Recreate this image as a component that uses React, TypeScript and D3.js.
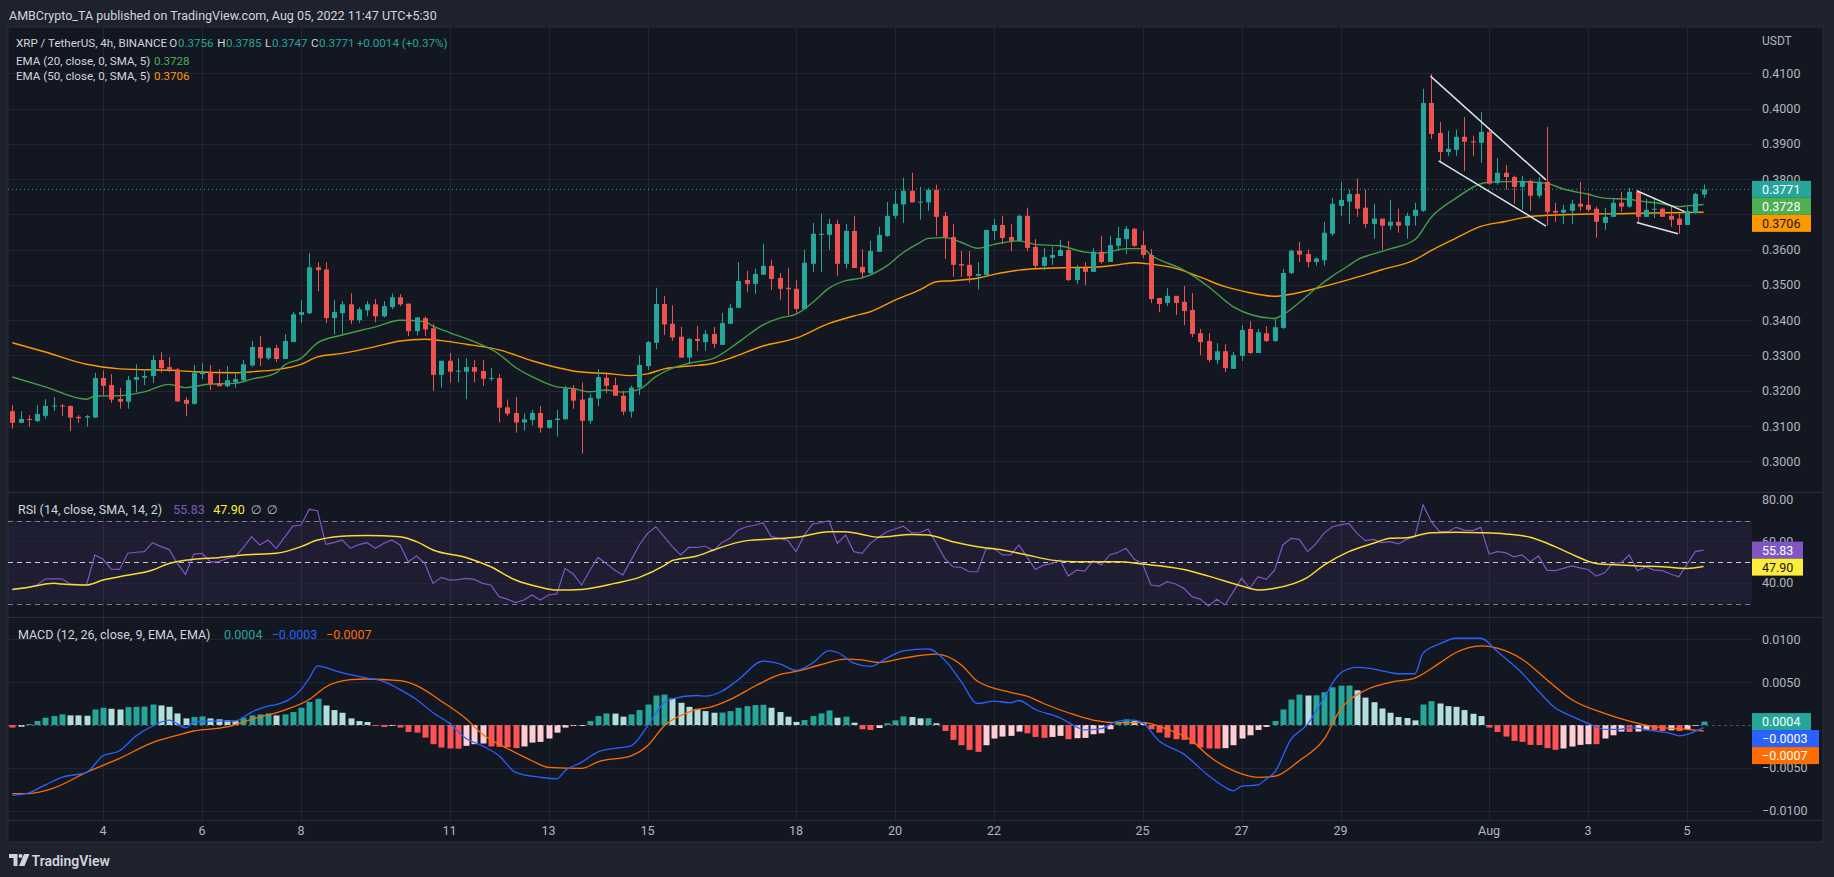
import * as d3 from "d3";

// XRP / TetherUS 4h candles, first bar Jul 2 2022 04:00, one bar every 4 hours
const START = Date.UTC(2022, 6, 2, 4);
const STEP = 4 * 3600 * 1000;

const opens = [
  0.3142, 0.3109, 0.312, 0.3114, 0.3129, 0.3157, 0.3158, 0.3157, 0.3126, 0.3124,
  0.3124, 0.3236, 0.3216, 0.3177, 0.3169, 0.3231, 0.3237, 0.3242, 0.3287, 0.3267,
  0.3261, 0.3174, 0.3163, 0.3247, 0.3253, 0.3222, 0.3213, 0.3224, 0.323, 0.3272,
  0.3324, 0.3292, 0.3321, 0.329, 0.3338, 0.3415, 0.342, 0.355, 0.3544, 0.3406,
  0.342, 0.3445, 0.34, 0.3428, 0.3445, 0.3411, 0.3437, 0.3465, 0.3447, 0.3369,
  0.3406, 0.3377, 0.3245, 0.3285, 0.3256, 0.3254, 0.3267, 0.3256, 0.3234, 0.3236,
  0.3153, 0.3137, 0.311, 0.3117, 0.3137, 0.3095, 0.3117, 0.3119, 0.3206, 0.3175,
  0.3115, 0.3178, 0.3237, 0.3216, 0.3186, 0.3141, 0.3209, 0.327, 0.3336, 0.3446,
  0.339, 0.3353, 0.3294, 0.3347, 0.3338, 0.3361, 0.333, 0.339, 0.3435, 0.3514,
  0.3503, 0.3529, 0.3554, 0.352, 0.3492, 0.3489, 0.3432, 0.356, 0.3642, 0.3642,
  0.3673, 0.356, 0.3653, 0.3551, 0.3534, 0.3594, 0.3639, 0.3696, 0.3728, 0.3767,
  0.3734, 0.3734, 0.377, 0.3696, 0.3636, 0.3559, 0.3557, 0.3526, 0.3528, 0.3653,
  0.367, 0.3636, 0.3625, 0.3696, 0.3608, 0.3554, 0.3577, 0.3582, 0.3599, 0.3514,
  0.3548, 0.3537, 0.3594, 0.3565, 0.3611, 0.363, 0.3659, 0.3613, 0.3585, 0.3463,
  0.3449, 0.3469, 0.3452, 0.3429, 0.3363, 0.3341, 0.3287, 0.3312, 0.3262, 0.3299,
  0.3375, 0.3307, 0.3363, 0.3341, 0.3378, 0.3534, 0.3597, 0.3588, 0.3565, 0.357,
  0.3645, 0.3724, 0.3736, 0.3758, 0.3719, 0.3673, 0.3688, 0.3668, 0.3679, 0.3668,
  0.3696, 0.371, 0.4016, 0.3931, 0.3877, 0.3883, 0.392, 0.3907, 0.3903, 0.3934,
  0.3789, 0.3818, 0.3806, 0.3778, 0.3795, 0.3753, 0.3792, 0.371, 0.3705, 0.371,
  0.373, 0.3727, 0.3716, 0.3676, 0.3693, 0.3733, 0.3722, 0.3764, 0.3693, 0.3713,
  0.3716, 0.3696, 0.3688, 0.367, 0.3704, 0.3756,
];
const highs = [
  0.3159, 0.3142, 0.3131, 0.3159, 0.3176, 0.3182, 0.3163, 0.3158, 0.3131, 0.3131,
  0.3251, 0.3258, 0.3247, 0.3208, 0.3242, 0.3275, 0.3261, 0.3301, 0.3309, 0.3295,
  0.3264, 0.3182, 0.3273, 0.3278, 0.3273, 0.3261, 0.327, 0.3247, 0.3287, 0.3341,
  0.3355, 0.3324, 0.333, 0.3361, 0.3423, 0.3457, 0.359, 0.3564, 0.3564, 0.3457,
  0.3454, 0.3476, 0.3437, 0.3454, 0.346, 0.3454, 0.3476, 0.3474, 0.3447, 0.3408,
  0.3411, 0.339, 0.3285, 0.3307, 0.3292, 0.3292, 0.3287, 0.3287, 0.3264, 0.3248,
  0.3175, 0.3182, 0.3136, 0.3146, 0.3157, 0.3117, 0.3146, 0.3214, 0.3216, 0.3223,
  0.3191, 0.3261, 0.3253, 0.3237, 0.32, 0.3214, 0.3301, 0.3341, 0.3492, 0.3469,
  0.3442, 0.3381, 0.335, 0.3384, 0.3372, 0.3381, 0.3421, 0.3446, 0.3565, 0.354,
  0.3546, 0.3617, 0.3571, 0.3534, 0.3548, 0.3514, 0.36, 0.3676, 0.3702, 0.3688,
  0.3685, 0.3673, 0.3696, 0.3601, 0.3625, 0.3665, 0.3735, 0.3767, 0.3804, 0.3818,
  0.3778, 0.3775, 0.3784, 0.3707, 0.3673, 0.3596, 0.3596, 0.3565, 0.3656, 0.3687,
  0.3696, 0.3673, 0.3699, 0.3719, 0.363, 0.3605, 0.3608, 0.3628, 0.3625, 0.3557,
  0.3565, 0.3605, 0.3639, 0.3639, 0.3665, 0.3667, 0.3662, 0.3653, 0.3602, 0.3463,
  0.3491, 0.3469, 0.3497, 0.3477, 0.3375, 0.3363, 0.3335, 0.3332, 0.331, 0.3386,
  0.3397, 0.3375, 0.3383, 0.3403, 0.3545, 0.36, 0.3622, 0.36, 0.3578, 0.3679,
  0.3747, 0.3792, 0.377, 0.3801, 0.377, 0.373, 0.3688, 0.3741, 0.3716, 0.3705,
  0.3733, 0.4056, 0.4098, 0.3962, 0.3937, 0.394, 0.3976, 0.3923, 0.399, 0.3945,
  0.386, 0.384, 0.381, 0.3809, 0.3798, 0.3806, 0.3948, 0.3733, 0.3727, 0.3741,
  0.3792, 0.3761, 0.3722, 0.3719, 0.3747, 0.3764, 0.3775, 0.3767, 0.3744, 0.3747,
  0.3719, 0.3722, 0.3702, 0.3722, 0.3761, 0.3785,
];
const lows = [
  0.3092, 0.3108, 0.3098, 0.3112, 0.3121, 0.3143, 0.3129, 0.3086, 0.3109, 0.3098,
  0.3123, 0.3187, 0.3166, 0.3149, 0.3149, 0.3196, 0.3216, 0.3222, 0.3251, 0.3253,
  0.3168, 0.3128, 0.3161, 0.3233, 0.3202, 0.3213, 0.321, 0.3208, 0.3224, 0.3267,
  0.327, 0.3287, 0.3281, 0.329, 0.3338, 0.3392, 0.3417, 0.3482, 0.3392, 0.336,
  0.336, 0.3389, 0.3392, 0.3411, 0.3394, 0.3408, 0.3431, 0.344, 0.3355, 0.3357,
  0.3355, 0.32, 0.3209, 0.3223, 0.3224, 0.3176, 0.3224, 0.3214, 0.3227, 0.311,
  0.3129, 0.3081, 0.3087, 0.3102, 0.3081, 0.3092, 0.307, 0.3119, 0.3149, 0.3022,
  0.3106, 0.3157, 0.3193, 0.3186, 0.3131, 0.3124, 0.3188, 0.3259, 0.3318, 0.3358,
  0.3342, 0.3294, 0.3276, 0.3313, 0.3313, 0.3321, 0.333, 0.339, 0.3435, 0.348,
  0.3475, 0.3529, 0.3486, 0.3458, 0.3415, 0.3421, 0.3432, 0.3537, 0.3537, 0.36,
  0.3526, 0.3546, 0.3548, 0.3519, 0.3528, 0.3594, 0.3636, 0.3687, 0.3676, 0.3734,
  0.3685, 0.371, 0.3639, 0.3574, 0.3523, 0.3523, 0.3506, 0.3487, 0.3528, 0.3628,
  0.3616, 0.3596, 0.3625, 0.3596, 0.3548, 0.3542, 0.3557, 0.3582, 0.3511, 0.3503,
  0.35, 0.3537, 0.356, 0.3565, 0.3596, 0.3588, 0.3608, 0.3576, 0.3449, 0.3423,
  0.344, 0.3415, 0.3386, 0.3352, 0.3301, 0.3281, 0.3275, 0.3253, 0.3262, 0.3284,
  0.3304, 0.3307, 0.3338, 0.3338, 0.3375, 0.353, 0.3565, 0.355, 0.3555, 0.3555,
  0.3639, 0.3696, 0.3673, 0.3693, 0.3662, 0.3631, 0.36, 0.3656, 0.3648, 0.3631,
  0.3668, 0.3707, 0.3914, 0.3846, 0.3866, 0.3866, 0.3823, 0.3866, 0.3846, 0.3784,
  0.3784, 0.377, 0.373, 0.3713, 0.371, 0.3747, 0.3668, 0.3679, 0.3673, 0.3673,
  0.371, 0.3707, 0.3634, 0.3656, 0.3693, 0.3707, 0.3719, 0.3676, 0.3693, 0.369,
  0.3693, 0.3665, 0.3645, 0.367, 0.3702, 0.3747,
];
const closes = [
  0.3109, 0.312, 0.3118, 0.3134, 0.3157, 0.3158, 0.3156, 0.3124, 0.3122, 0.3128,
  0.3236, 0.3214, 0.3175, 0.3169, 0.323, 0.3239, 0.3242, 0.3287, 0.3264, 0.326,
  0.317, 0.3163, 0.325, 0.3253, 0.3219, 0.3213, 0.323, 0.3233, 0.3275, 0.3324,
  0.3292, 0.3321, 0.329, 0.3341, 0.3417, 0.3423, 0.355, 0.3542, 0.3406, 0.3423,
  0.3445, 0.34, 0.3431, 0.3445, 0.3411, 0.344, 0.3465, 0.3445, 0.3369, 0.3408,
  0.3374, 0.3245, 0.3285, 0.3254, 0.3257, 0.3267, 0.3254, 0.3234, 0.3236, 0.3152,
  0.3135, 0.311, 0.3119, 0.3137, 0.3095, 0.3117, 0.3121, 0.3206, 0.3172, 0.3115,
  0.318, 0.3239, 0.3214, 0.3186, 0.3141, 0.3209, 0.3273, 0.3338, 0.3446, 0.3388,
  0.3351, 0.3294, 0.3347, 0.3341, 0.3361, 0.3333, 0.3392, 0.3435, 0.3511, 0.3503,
  0.3531, 0.3554, 0.3517, 0.3489, 0.3488, 0.3432, 0.3563, 0.3645, 0.3645, 0.3673,
  0.356, 0.3653, 0.3548, 0.3535, 0.3596, 0.3642, 0.3696, 0.373, 0.3767, 0.3734,
  0.3736, 0.377, 0.3693, 0.3634, 0.3557, 0.3555, 0.3525, 0.3531, 0.3656, 0.367,
  0.3633, 0.3625, 0.3696, 0.3605, 0.3554, 0.3579, 0.3585, 0.3599, 0.3514, 0.3548,
  0.3537, 0.3594, 0.3565, 0.3613, 0.3633, 0.3659, 0.3611, 0.3585, 0.346, 0.3446,
  0.3469, 0.3449, 0.3426, 0.3361, 0.3338, 0.3287, 0.3312, 0.3264, 0.3301, 0.3372,
  0.3307, 0.3366, 0.3341, 0.338, 0.3534, 0.3597, 0.3586, 0.3565, 0.3575, 0.3648,
  0.373, 0.3741, 0.3758, 0.3716, 0.3673, 0.3688, 0.3668, 0.3679, 0.3668, 0.3696,
  0.3713, 0.4016, 0.3928, 0.3877, 0.3886, 0.392, 0.3906, 0.3904, 0.3934, 0.3787,
  0.3818, 0.3806, 0.3778, 0.3795, 0.3753, 0.3792, 0.3707, 0.3705, 0.3713, 0.373,
  0.3722, 0.3713, 0.3679, 0.3693, 0.3733, 0.3722, 0.3764, 0.3693, 0.3713, 0.3716,
  0.3693, 0.3685, 0.367, 0.371, 0.3758, 0.3771,
];

// [bar index, value]
const ema20 = [
  [0, 0.3239], [4, 0.3211], [9, 0.3176], [10, 0.3185], [13, 0.3186], [16, 0.3197], [19, 0.3218],
  [21, 0.3209], [24, 0.3219], [27, 0.3221], [29, 0.3233], [32, 0.3251], [33, 0.3273], [35, 0.3292],
  [37, 0.3336], [40, 0.3358], [44, 0.3381], [47, 0.34], [50, 0.3396], [51, 0.3383], [53, 0.3365],
  [56, 0.3339], [59, 0.3304], [61, 0.3266], [63, 0.324], [66, 0.3211], [68, 0.3206], [70, 0.3197],
  [72, 0.3202], [74, 0.3196], [76, 0.3204], [78, 0.324], [80, 0.3264], [82, 0.3278], [85, 0.3292],
  [88, 0.3337], [91, 0.3387], [93, 0.3406], [95, 0.3417], [97, 0.345], [99, 0.3491], [101, 0.3512],
  [103, 0.352], [106, 0.3554], [108, 0.3592], [110, 0.362], [111, 0.3632], [113, 0.3634], [115, 0.3621],
  [117, 0.3604], [119, 0.3615], [122, 0.3625], [124, 0.3615], [127, 0.3611], [130, 0.3593], [132, 0.359],
  [135, 0.3603], [137, 0.3603], [138, 0.3585], [142, 0.3542], [145, 0.3495], [148, 0.3438], [150, 0.3417],
  [153, 0.3405], [154, 0.3415], [156, 0.345], [158, 0.349], [160, 0.3525], [162, 0.3555], [163, 0.3571],
  [165, 0.3588], [167, 0.3602], [170, 0.3628], [172, 0.3692], [175, 0.3746], [178, 0.3787], [179, 0.3791],
  [181, 0.3793], [184, 0.3792], [186, 0.3788], [188, 0.3772], [191, 0.3757], [193, 0.3746], [196, 0.3743],
  [197, 0.3739], [200, 0.373], [202, 0.3722], [203, 0.3724], [205, 0.3728],
];
const ema50 = [
  [0, 0.3336], [4, 0.331], [9, 0.3275], [13, 0.3262], [20, 0.3257], [22, 0.3254], [27, 0.3251],
  [29, 0.3254], [32, 0.326], [35, 0.3275], [37, 0.3296], [40, 0.3306], [44, 0.3325], [47, 0.3341],
  [50, 0.3346], [52, 0.3342], [55, 0.3332], [59, 0.3316], [63, 0.3285], [66, 0.3266], [69, 0.3253],
  [72, 0.3249], [75, 0.3243], [77, 0.3248], [79, 0.3262], [82, 0.327], [85, 0.3278], [87, 0.3292],
  [91, 0.3327], [95, 0.3349], [99, 0.3391], [102, 0.3412], [104, 0.3424], [107, 0.3457], [110, 0.3486],
  [112, 0.3509], [114, 0.3512], [117, 0.3519], [119, 0.353], [122, 0.3542], [124, 0.3546], [128, 0.3549],
  [131, 0.355], [134, 0.3557], [136, 0.3563], [138, 0.3559], [141, 0.3547], [144, 0.3522], [147, 0.3495],
  [150, 0.3478], [153, 0.3468], [154, 0.347], [158, 0.349], [162, 0.3515], [166, 0.3543], [170, 0.3571],
  [172, 0.3598], [175, 0.3633], [178, 0.3666], [181, 0.368], [184, 0.3694], [188, 0.3699], [191, 0.3701],
  [195, 0.3702], [199, 0.3704], [205, 0.3706],
];

// RSI(14), one value per bar
const rsi = [
  36.9, 37.4, 37.9, 39.0, 42.0, 42.0, 42.0, 39.5, 39.2, 39.0,
  53.5, 51.4, 46.7, 46.5, 54.3, 54.8, 55.1, 59.4, 57.5, 56.2,
  49.4, 44.1, 53.9, 54.3, 50.2, 50.2, 51.8, 52.6, 57.0, 62.3,
  58.3, 60.7, 56.7, 62.0, 67.4, 67.9, 75.5, 74.8, 58.6, 59.4,
  60.7, 56.7, 58.5, 59.4, 56.7, 59.0, 60.7, 58.3, 50.2, 53.0,
  49.4, 39.8, 42.7, 41.4, 41.6, 42.2, 41.7, 39.8, 39.0, 33.4,
  32.2, 30.5, 31.8, 34.2, 31.8, 34.2, 34.7, 47.0, 44.3, 39.0,
  46.0, 52.3, 49.4, 46.2, 43.8, 51.0, 58.3, 63.9, 67.1, 62.3,
  57.5, 53.5, 57.1, 57.1, 57.8, 55.5, 59.4, 61.5, 65.5, 67.1,
  67.8, 69.0, 62.3, 61.5, 60.5, 55.1, 63.1, 68.4, 69.0, 70.0,
  59.1, 63.1, 55.1, 54.3, 59.1, 62.0, 64.7, 66.0, 67.4, 64.2,
  64.2, 66.0, 59.1, 52.0, 47.8, 47.5, 45.4, 45.4, 56.2, 56.7,
  53.5, 53.5, 58.3, 52.6, 46.5, 48.6, 49.4, 51.0, 43.3, 46.2,
  45.7, 50.7, 48.6, 53.5, 54.7, 56.7, 51.4, 49.4, 39.0, 38.5,
  40.6, 39.5, 37.4, 33.4, 32.2, 28.9, 32.1, 29.4, 35.8, 42.2,
  37.4, 43.0, 41.7, 46.2, 58.3, 61.5, 61.0, 55.1, 58.8, 64.0,
  67.1, 68.0, 68.7, 63.9, 60.4, 61.0, 59.4, 59.9, 58.8, 61.0,
  62.3, 77.6, 69.5, 64.7, 64.7, 66.8, 65.5, 65.2, 66.8, 53.9,
  55.1, 54.6, 52.6, 53.5, 50.2, 53.0, 46.2, 45.9, 47.0, 48.2,
  47.3, 46.5, 43.3, 44.9, 49.4, 49.8, 53.5, 45.9, 47.8, 46.2,
  45.9, 44.3, 43.0, 49.1, 55.1, 55.83,
];
const rsiMa = [
  [0, 36.9], [2, 37.9], [5, 39.8], [6, 39.5], [9, 39.0], [11, 41.4], [13, 43.0], [17, 46.2],
  [19, 49.4], [22, 51.4], [25, 52.2], [28, 53.5], [32, 54.3], [35, 57.5], [37, 60.7], [41, 62.8],
  [43, 62.9], [47, 62.3], [49, 59.9], [51, 55.9], [55, 52.3], [58, 47.8], [61, 41.4], [64, 37.9],
  [66, 36.6], [69, 36.9], [73, 39.8], [76, 42.7], [79, 48.3], [80, 50.8], [83, 53.0], [85, 55.9],
  [89, 60.4], [92, 61.2], [95, 62.0], [99, 64.7], [101, 64.7], [103, 63.4], [105, 62.0], [109, 63.4],
  [111, 63.1], [114, 59.9], [117, 57.5], [120, 55.9], [123, 53.5], [126, 51.0], [129, 50.2], [134, 50.2],
  [137, 49.1], [142, 46.5], [145, 43.3], [149, 38.5], [151, 36.6], [153, 37.4], [157, 42.7], [159, 48.6],
  [162, 55.1], [165, 59.1], [167, 61.5], [169, 61.8], [172, 64.2], [175, 64.4], [178, 64.2], [181, 63.6],
  [184, 62.0], [187, 57.5], [189, 53.9], [192, 49.4], [195, 48.6], [197, 48.2], [200, 47.8], [203, 47.0],
  [205, 47.9],
];

// MACD(12, 26, 9)
const macdLine = [
  [0, -0.00822], [2, -0.00792], [4, -0.00699], [6, -0.0061], [9, -0.00552], [11, -0.00359], [13, -0.00301],
  [15, -0.00127], [17, -0.00012], [19, 0.00058], [21, -0.00031], [22, 0.00035], [24, 0.00046], [27, 0.00046],
  [29, 0.00151], [31, 0.0022], [32, 0.00239], [35, 0.00413], [36, 0.00548], [37, 0.00691], [39, 0.00637],
  [41, 0.00587], [43, 0.00548], [45, 0.0051], [47, 0.00413], [49, 0.00297], [51, 0.00143], [53, 0.00019],
  [55, -0.00158], [57, -0.00243], [59, -0.00359], [61, -0.00552], [64, -0.0061], [66, -0.00629], [67, -0.00533],
  [69, -0.00436], [71, -0.00313], [73, -0.00274], [75, -0.00243], [77, -0.00012], [79, 0.00259], [80, 0.00305],
  [83, 0.00344], [84, 0.00336], [86, 0.00394], [88, 0.00529], [91, 0.00745], [93, 0.00714], [95, 0.00637],
  [97, 0.00722], [99, 0.00869], [100, 0.00849], [102, 0.00722], [104, 0.00683], [106, 0.0078], [108, 0.00865],
  [111, 0.00888], [113, 0.0076], [115, 0.0051], [117, 0.00251], [119, 0.00278], [121, 0.00259], [122, 0.00286],
  [124, 0.00181], [127, 0.00085], [129, -0.00023], [130, -0.00058], [132, -0.00042], [134, 0.00046], [136, 0.00058],
  [137, 0.00027], [139, -0.00185], [142, -0.0034], [145, -0.00591], [147, -0.00726], [148, -0.00768], [149, -0.00714],
  [151, -0.00699], [152, -0.00629], [153, -0.00552], [155, -0.00166], [157, 0.00008], [159, 0.00317], [161, 0.00606],
  [163, 0.00672], [165, 0.00653], [168, 0.00598], [170, 0.00598], [171, 0.00838], [173, 0.00946], [175, 0.01012],
  [178, 0.01012], [180, 0.00857], [183, 0.00606], [185, 0.00394], [187, 0.00201], [189, 0.00104], [191, 0.00019],
  [193, -0.0005], [195, -0.0005], [196, -0.00031], [199, -0.00069], [201, -0.00097], [202, -0.00127], [203, -0.00108],
  [205, -0.0003],
];
const signalLine = [
  [0, -0.008], [2, -0.008], [5, -0.00737], [9, -0.00552], [13, -0.0039], [17, -0.00205], [20, -0.0012],
  [22, -0.0007], [26, -0.00023], [29, 0.00066], [33, 0.00174], [36, 0.00297], [38, 0.00444], [41, 0.00529],
  [43, 0.00537], [47, 0.00517], [49, 0.00459], [52, 0.00278], [55, 0.00073], [57, -0.00108], [60, -0.00274],
  [63, -0.00417], [65, -0.00494], [69, -0.00506], [71, -0.00429], [75, -0.00359], [77, -0.00243], [79, -0.00012],
  [82, 0.00151], [85, 0.0022], [87, 0.00297], [90, 0.00452], [93, 0.00587], [95, 0.00625], [98, 0.00703],
  [101, 0.00768], [103, 0.0076], [105, 0.0073], [108, 0.0078], [112, 0.00826], [115, 0.00703], [117, 0.0051],
  [121, 0.00382], [123, 0.00336], [125, 0.00251], [128, 0.00143], [131, 0.00058], [134, 0.00027], [137, 0.00027],
  [140, -0.0005], [143, -0.00185], [145, -0.00359], [148, -0.00533], [151, -0.0061], [153, -0.00598], [156, -0.00417],
  [159, -0.00166], [161, 0.00181], [164, 0.00405], [167, 0.00498], [170, 0.00548], [173, 0.00722], [175, 0.00846],
  [178, 0.00923], [180, 0.00896], [183, 0.00768], [186, 0.00529], [189, 0.00297], [193, 0.00135], [196, 0.00046],
  [199, -0.00019], [203, -0.0005], [205, -0.0007],
];
const histogram = [
  -0.0003, -0.0002, 0.0001, 0.00046, 0.00085, 0.00104, 0.00124, 0.00112, 0.00112, 0.00108,
  0.00181, 0.00201, 0.00189, 0.00181, 0.00208, 0.00212, 0.00214, 0.00239, 0.00228, 0.00212,
  0.00135, 0.00077, 0.00093, 0.001, 0.00077, 0.00066, 0.00054, 0.0005, 0.00085, 0.00112,
  0.00124, 0.00135, 0.00112, 0.00124, 0.00151, 0.00201, 0.0027, 0.00305, 0.00228, 0.00174,
  0.00143, 0.00077, 0.00046, 0.00035, -0.00012, -0.00023, -0.00012, -0.0003, -0.00081, -0.00089,
  -0.00147, -0.00224, -0.00263, -0.00274, -0.00276, -0.00243, -0.00224, -0.00216, -0.0025, -0.00255,
  -0.0026, -0.0027, -0.0025, -0.00205, -0.00197, -0.00158, -0.00089, -0.0003, -0.00004, -0.00002,
  0.00046, 0.00104, 0.00135, 0.00133, 0.00097, 0.00124, 0.00174, 0.00239, 0.00344, 0.00355,
  0.00309, 0.00259, 0.00212, 0.00189, 0.00162, 0.00143, 0.00145, 0.00162, 0.00201, 0.0022,
  0.00232, 0.00236, 0.00201, 0.00151, 0.00097, 0.00035, 0.00058, 0.00104, 0.00135, 0.0017,
  0.00085, 0.00097, 0.00027, -0.0005, -0.00058, -0.00035, 0.0002, 0.00054, 0.001, 0.00093,
  0.00077, 0.00079, 0.0002, -0.0007, -0.00174, -0.00236, -0.0029, -0.00313, -0.00236, -0.00158,
  -0.00135, -0.00127, -0.00077, -0.00097, -0.00139, -0.0015, -0.00139, -0.00127, -0.00166, -0.00154,
  -0.0015, -0.00108, -0.00097, -0.0005, 0.00027, 0.00066, 0.00046, 0.00027, -0.0005, -0.00089,
  -0.00147, -0.00166, -0.00174, -0.00224, -0.00263, -0.00274, -0.00276, -0.0027, -0.00236, -0.00158,
  -0.0012, -0.00058, -0.00023, 0.00046, 0.00181, 0.00297, 0.00355, 0.00344, 0.00346, 0.00382,
  0.0044, 0.00459, 0.0046, 0.00405, 0.0032, 0.00266, 0.00193, 0.00143, 0.00093, 0.00081,
  0.00054, 0.00239, 0.00278, 0.00251, 0.0022, 0.00212, 0.00174, 0.00131, 0.00104, -0.0003,
  -0.00081, -0.00135, -0.00185, -0.00197, -0.00232, -0.00234, -0.0027, -0.0029, -0.00274, -0.00251,
  -0.00232, -0.00224, -0.00224, -0.00158, -0.0012, -0.00077, -0.00081, -0.00077, -0.00062, -0.00064,
  -0.0007, -0.00062, -0.0007, -0.0005, -0.0001, 0.0004,
];

// trend lines drawn on the chart: [bar index, price] end points
const drawings = [
  [[171.9, 0.4092], [185.9, 0.3798]],
  [[172.9, 0.3852], [185.9, 0.3667]],
  [[196.9, 0.3767], [202.7, 0.3708]],
  [[196.9, 0.3677], [201.9, 0.3645]],
];

const dayTicks = [
  "2022-07-04", "2022-07-06", "2022-07-08", "2022-07-11", "2022-07-13", "2022-07-15", "2022-07-18",
  "2022-07-20", "2022-07-22", "2022-07-25", "2022-07-27", "2022-07-29", "2022-08-01", "2022-08-03",
  "2022-08-05",
];
const priceTicks = [0.3, 0.31, 0.32, 0.33, 0.34, 0.35, 0.36, 0.37, 0.38, 0.39, 0.4, 0.41];
const rsiTicks = [80, 60, 40];
const rsiBands = [70, 50, 30];
const macdTicks = [0.01, 0.005, -0.005, -0.01];

const BG = "#131722";
const OUTER = "#1e222d";
const GRID = "#232632";
const TEXT = "#b2b5be";
const UP = "#26a69a";
const DOWN = "#ef5350";
const FONT = "Roboto, 'Noto Sans', 'DejaVu Sans', sans-serif";

const PL = 8;
const PR = 1752;
const AR = 1823;

const t = (i: number) => new Date(START + i * STEP);
const fmt = (v: number, d: number) => (v < 0 ? "\u2212" : "") + Math.abs(v).toFixed(d);

function stackBoxes(items: { y: number; h: number }[]) {
  const out: number[] = [];
  let last = -Infinity;
  items.forEach((it) => {
    let top = it.y - it.h / 2;
    if (top < last) top = last;
    out.push(top);
    last = top + it.h;
  });
  return out;
}

function AxisBoxes({ items }: { items: { v: string; y: number; bg: string; fg: string }[] }) {
  const tops = stackBoxes(items.map((d) => ({ y: d.y, h: 17 })));
  return (
    <g>
      {items.map((d, k) => (
        <g key={k}>
          <rect x={PR} y={tops[k]} width={d.v.length * 8 + 11} height={17} fill={d.bg} />
          <text x={1762} y={tops[k] + 8.8} fill={d.fg} fontSize={12.5} dominantBaseline="central">
            {d.v}
          </text>
        </g>
      ))}
    </g>
  );
}

export default function App() {
  const x = d3.scaleUtc().domain([t(0), t(205)]).range([12.3, 1703.55]);
  const yP = d3.scaleLinear().domain([0.3, 0.41]).range([461.3, 73.3]);
  const yR = d3.scaleLinear().domain([30, 70]).range([603.7, 520.7]);
  const yM = d3.scaleLinear().domain([-0.01, 0.01]).range([810.7, 639.3]);

  const xi = (i: number) => x(t(i));

  const pairLine = (y: d3.ScaleLinear<number, number>) =>
    d3
      .line<number[]>()
      .x((d) => xi(d[0]))
      .y((d) => y(d[1]))
      .curve(d3.curveMonotoneX);

  const rsiPath = d3
    .line<number>()
    .x((_, i) => xi(i))
    .y((d) => yR(d))(rsi);

  const last = closes.length - 1;
  const histColor = (v: number, i: number) => {
    const prev = i > 0 ? histogram[i - 1] : v;
    if (v >= 0) return prev < v ? "#26a69a" : "#b2dfdb";
    return prev < v ? "#ffcdd2" : "#ff5252";
  };

  return (
    <svg
      width={1834}
      height={877}
      style={{ position: "absolute", left: 0, top: 0, display: "block" }}
      fontFamily={FONT}
    >
      <defs>
        <clipPath id="pricePane">
          <rect x={PL} y={27} width={PR - PL} height={465} />
        </clipPath>
        <clipPath id="rsiPane">
          <rect x={PL} y={493} width={PR - PL} height={124} />
        </clipPath>
        <clipPath id="macdPane">
          <rect x={PL} y={618} width={PR - PL} height={202} />
        </clipPath>
      </defs>

      <rect width={1834} height={877} fill={OUTER} />
      <text x={9} y={15} fill="#d1d4dc" fontSize={12.5} dominantBaseline="central">
        AMBCrypto_TA published on TradingView.com, Aug 05, 2022 11:47 UTC+5:30
      </text>

      <rect x={PL} y={27} width={AR - PL} height={815} fill={BG} stroke="#2a2e39" />

      {/* vertical grid */}
      {dayTicks.map((d) => {
        const gx = Math.round(x(new Date(d + "T00:00:00Z"))) + 0.5;
        return <line key={d} x1={gx} x2={gx} y1={28} y2={820} stroke={GRID} />;
      })}

      {/* ---------- price pane ---------- */}
      {priceTicks.map((p) => (
        <g key={p}>
          <line x1={PL} x2={PR} y1={Math.round(yP(p)) + 0.5} y2={Math.round(yP(p)) + 0.5} stroke={GRID} />
          <text x={1762} y={yP(p)} fill={TEXT} fontSize={12.5} dominantBaseline="central">
            {p.toFixed(4)}
          </text>
        </g>
      ))}
      <text x={1762} y={41} fill={TEXT} fontSize={12} dominantBaseline="central">
        USDT
      </text>

      <g clipPath="url(#pricePane)">
        <path d={pairLine(yP)(ema50) ?? ""} fill="none" stroke="#ff9800" strokeWidth={1.4} />
        <path d={pairLine(yP)(ema20) ?? ""} fill="none" stroke="#43a047" strokeWidth={1.4} />
        {opens.map((o, i) => {
          const c = closes[i];
          const col = c >= o ? UP : DOWN;
          const cx = Math.round(xi(i));
          const top = yP(Math.max(o, c));
          const bot = yP(Math.min(o, c));
          return (
            <g key={i}>
              <line x1={cx + 0.5} x2={cx + 0.5} y1={yP(highs[i])} y2={yP(lows[i])} stroke={col} />
              <rect x={cx - 2} y={top} width={5} height={Math.max(1, bot - top)} fill={col} />
            </g>
          );
        })}
        <line
          x1={PL}
          x2={PR}
          y1={yP(closes[last])}
          y2={yP(closes[last])}
          stroke={UP}
          strokeDasharray="1,3"
        />
        {drawings.map((ln, k) => (
          <line
            key={k}
            x1={xi(ln[0][0])}
            y1={yP(ln[0][1])}
            x2={xi(ln[1][0])}
            y2={yP(ln[1][1])}
            stroke="#e0e3eb"
            strokeWidth={1.5}
          />
        ))}
      </g>

      {/* legend */}
      <g fontSize={11.6} dominantBaseline="central">
        <text y={43.3} fill="#d1d4dc">
          <tspan x={16}>XRP / TetherUS, 4h, BINANCE</tspan>
          <tspan x={169.3}>O</tspan>
          <tspan x={178} fill={UP}>{opens[last].toFixed(4)}</tspan>
          <tspan x={217.3}>H</tspan>
          <tspan x={226} fill={UP}>{highs[last].toFixed(4)}</tspan>
          <tspan x={265}>L</tspan>
          <tspan x={272} fill={UP}>{lows[last].toFixed(4)}</tspan>
          <tspan x={311}>C</tspan>
          <tspan x={319} fill={UP}>{closes[last].toFixed(4)}</tspan>
          <tspan x={356.7} fill={UP}>+0.0014 (+0.37%)</tspan>
        </text>
        <text y={60.7} fill="#d1d4dc">
          <tspan x={16}>EMA (20, close, 0, SMA, 5)</tspan>
          <tspan x={154} fill="#4caf50">0.3728</tspan>
        </text>
        <text y={76.3} fill="#d1d4dc">
          <tspan x={16}>EMA (50, close, 0, SMA, 5)</tspan>
          <tspan x={154} fill="#ff9800">0.3706</tspan>
        </text>
      </g>

      <AxisBoxes
        items={[
          { v: "0.3771", y: yP(0.3771), bg: "#26a69a", fg: "#ffffff" },
          { v: "0.3728", y: yP(0.3728), bg: "#4caf50", fg: "#ffffff" },
          { v: "0.3706", y: yP(0.3706), bg: "#ff9800", fg: "#131722" },
        ]}
      />

      <line x1={PL} x2={AR} y1={492.5} y2={492.5} stroke="#2a2e39" />

      {/* ---------- RSI pane ---------- */}
      <rect x={PL} y={yR(70)} width={PR - PL} height={yR(30) - yR(70)} fill="rgba(126,87,194,0.1)" />
      {[60, 40].map((v) => (
        <line key={v} x1={PL} x2={PR} y1={Math.round(yR(v)) + 0.5} y2={Math.round(yR(v)) + 0.5} stroke={GRID} />
      ))}
      {rsiBands.map((v) => (
        <line
          key={v}
          x1={PL}
          x2={PR}
          y1={Math.round(yR(v)) + 0.5}
          y2={Math.round(yR(v)) + 0.5}
          stroke={v === 50 ? "#c8cad2" : "#787b86"}
          strokeDasharray="5,4"
        />
      ))}
      {rsiTicks.map((v) => (
        <text key={v} x={1762} y={yR(v)} fill={TEXT} fontSize={12.5} dominantBaseline="central">
          {v.toFixed(2)}
        </text>
      ))}
      <g clipPath="url(#rsiPane)">
        <path d={rsiPath ?? ""} fill="none" stroke="#7e57c2" strokeWidth={1.2} />
        <path d={pairLine(yR)(rsiMa) ?? ""} fill="none" stroke="#fdd835" strokeWidth={1.5} />
      </g>
      <text y={508.5} fontSize={12.5} dominantBaseline="central" fill="#d1d4dc">
        <tspan x={18}>RSI (14, close, SMA, 14, 2)</tspan>
        <tspan x={173.3} fill="#7e57c2">{rsi[last].toFixed(2)}</tspan>
        <tspan x={213.3} fill="#ffeb3b">47.90</tspan>
        <tspan x={250.7} fill={TEXT}>{"\u2205"}</tspan>
        <tspan x={266.7} fill={TEXT}>{"\u2205"}</tspan>
      </text>
      <AxisBoxes
        items={[
          { v: "55.83", y: yR(55.83), bg: "#7e57c2", fg: "#ffffff" },
          { v: "47.90", y: yR(47.9), bg: "#ffeb3b", fg: "#131722" },
        ]}
      />

      <line x1={PL} x2={AR} y1={617.5} y2={617.5} stroke="#2a2e39" />

      {/* ---------- MACD pane ---------- */}
      {macdTicks.map((v) => (
        <g key={v}>
          <line x1={PL} x2={PR} y1={Math.round(yM(v)) + 0.5} y2={Math.round(yM(v)) + 0.5} stroke={GRID} />
          <text x={1762} y={yM(v)} fill={TEXT} fontSize={12.5} dominantBaseline="central">
            {fmt(v, 4)}
          </text>
        </g>
      ))}
      <g clipPath="url(#macdPane)">
        {histogram.map((v, i) => {
          const cx = Math.round(xi(i));
          const y0 = yM(0);
          const y1 = yM(v);
          return (
            <rect
              key={i}
              x={cx - 2.5}
              y={Math.min(y0, y1)}
              width={6}
              height={Math.max(1, Math.abs(y1 - y0))}
              fill={histColor(v, i)}
            />
          );
        })}
        <line
          x1={PL}
          x2={PR}
          y1={Math.round(yM(0)) + 0.5}
          y2={Math.round(yM(0)) + 0.5}
          stroke="#787b86"
          strokeDasharray="3,3"
          opacity={0.6}
        />
        <path d={pairLine(yM)(signalLine) ?? ""} fill="none" stroke="#ff6d00" strokeWidth={1.3} />
        <path d={pairLine(yM)(macdLine) ?? ""} fill="none" stroke="#2962ff" strokeWidth={1.3} />
      </g>
      <text y={634} fontSize={12.5} dominantBaseline="central" fill="#d1d4dc">
        <tspan x={18}>MACD (12, 26, close, 9, EMA, EMA)</tspan>
        <tspan x={224} fill="#26a69a">{fmt(histogram[last], 4)}</tspan>
        <tspan x={271.7} fill="#2962ff">{fmt(-0.0003, 4)}</tspan>
        <tspan x={326} fill="#ff6d00">{fmt(-0.0007, 4)}</tspan>
      </text>
      <AxisBoxes
        items={[
          { v: fmt(histogram[last], 4), y: yM(histogram[last]), bg: "#26a69a", fg: "#ffffff" },
          { v: fmt(-0.0003, 4), y: yM(-0.0003), bg: "#2962ff", fg: "#ffffff" },
          { v: fmt(-0.0007, 4), y: yM(-0.0007), bg: "#ff6d00", fg: "#ffffff" },
        ]}
      />

      {/* ---------- time axis ---------- */}
      <line x1={PL} x2={AR} y1={820.5} y2={820.5} stroke="#2a2e39" />
      {dayTicks.map((d) => {
        const dt = new Date(d + "T00:00:00Z");
        return (
          <text
            key={d}
            x={x(dt)}
            y={830}
            fill={TEXT}
            fontSize={12.5}
            textAnchor="middle"
            dominantBaseline="central"
          >
            {dt.getUTCDate() === 1 ? d3.utcFormat("%b")(dt) : dt.getUTCDate()}
          </text>
        );
      })}

      {/* TradingView mark */}
      <g fill="#d1d4dc">
        <path d="M9 854 h8.5 v12 h-4 v-8 h-4.5 z" />
        <circle cx={20.5} cy={856} r={2} />
        <path d="M24 854 h5.5 l-5 12 h-5.5 z" />
        <text x={31.5} y={860.5} fontSize={14} fontWeight={600} dominantBaseline="central">
          TradingView
        </text>
      </g>
    </svg>
  );
}
